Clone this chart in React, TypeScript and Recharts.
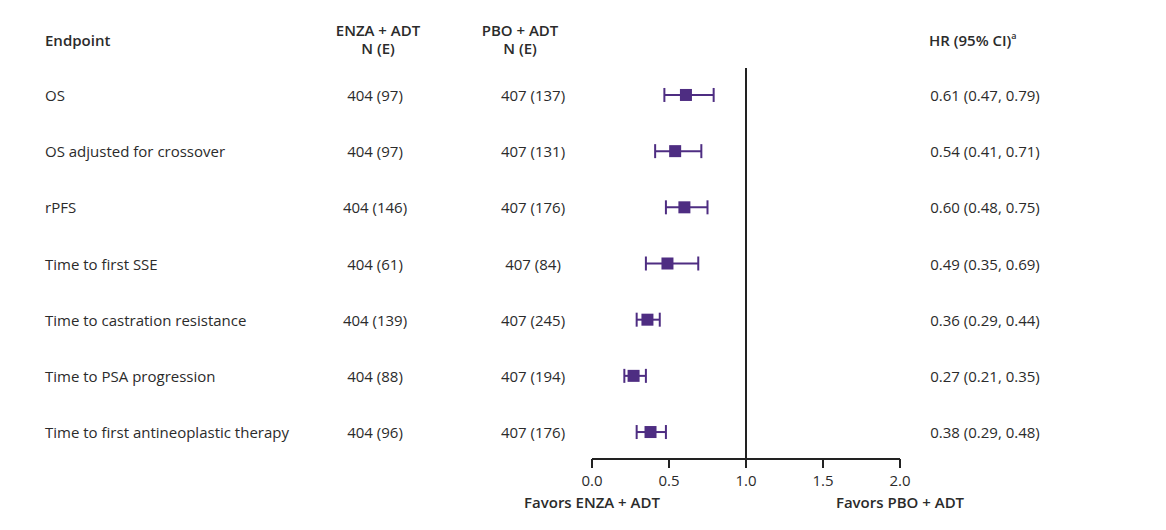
import {
  ComposedChart,
  Customized,
  ErrorBar,
  ReferenceLine,
  Scatter,
  XAxis,
  YAxis,
} from 'recharts';

const endpoints = [
  'OS',
  'OS adjusted for crossover',
  'rPFS',
  'Time to first SSE',
  'Time to castration resistance',
  'Time to PSA progression',
  'Time to first antineoplastic therapy',
];
const enzaN = [404, 404, 404, 404, 404, 404, 404];
const enzaEvents = [97, 97, 146, 61, 139, 88, 96];
const pboN = [407, 407, 407, 407, 407, 407, 407];
const pboEvents = [137, 131, 176, 84, 245, 194, 176];
const hr = [0.61, 0.54, 0.6, 0.49, 0.36, 0.27, 0.38];
const ciLow = [0.47, 0.41, 0.48, 0.35, 0.29, 0.21, 0.29];
const ciHigh = [0.79, 0.71, 0.75, 0.69, 0.44, 0.35, 0.48];
const xTicks = [0, 0.5, 1, 1.5, 2];
const favorsLabels: Record<number, string> = {
  0: 'Favors ENZA + ADT',
  2: 'Favors PBO + ADT',
};

const PURPLE = '#4e2d82';
const TEXT = '#2b2b2b';
const FONT = '"Open Sans", "Noto Sans", sans-serif';
const FS = 15;

const rows = endpoints.map((name, i) => ({
  row: i,
  name,
  enza: `${enzaN[i]} (${enzaEvents[i]})`,
  pbo: `${pboN[i]} (${pboEvents[i]})`,
  hr: hr[i],
  err: [hr[i] - ciLow[i], ciHigh[i] - hr[i]],
  ci: `${hr[i].toFixed(2)} (${ciLow[i].toFixed(2)}, ${ciHigh[i].toFixed(2)})`,
}));

// square marker plus the text columns of the same row
const RowShape = (props: any) => {
  const { cx, cy, payload } = props;
  const s = 12;
  return (
    <g fontFamily={FONT} fontSize={FS} fill={TEXT}>
      <text x={45} y={cy} dominantBaseline="central">{payload.name}</text>
      <text x={375} y={cy} textAnchor="middle" dominantBaseline="central">{payload.enza}</text>
      <text x={533} y={cy} textAnchor="middle" dominantBaseline="central">{payload.pbo}</text>
      <text x={985} y={cy} textAnchor="middle" dominantBaseline="central">{payload.ci}</text>
      <rect x={cx - s / 2} y={cy - s / 2} width={s} height={s} fill={PURPLE} />
    </g>
  );
};

const XTick = (props: any) => {
  const { x, y, payload } = props;
  const favors = favorsLabels[payload.value];
  return (
    <g fontFamily={FONT} fill={TEXT} textAnchor="middle">
      <text x={x} y={y + 10} fontSize={FS} fill={TEXT} dominantBaseline="central">
        {payload.value.toFixed(1)}
      </text>
      {favors && (
        <text x={x} y={y + 32} fontSize={FS} fontWeight={600} fill={TEXT} dominantBaseline="central">
          {favors}
        </text>
      )}
    </g>
  );
};

const Header = () => (
  <g fontFamily={FONT} fontSize={FS} fontWeight={600} fill={TEXT}>
    <text x={45} y={40} dominantBaseline="central">Endpoint</text>
    <text x={378} y={30} textAnchor="middle" dominantBaseline="central">ENZA + ADT</text>
    <text x={378} y={48} textAnchor="middle" dominantBaseline="central">N (E)</text>
    <text x={520} y={30} textAnchor="middle" dominantBaseline="central">PBO + ADT</text>
    <text x={520} y={48} textAnchor="middle" dominantBaseline="central">N (E)</text>
    <text x={929} y={40} dominantBaseline="central">
      HR (95% CI)
      <tspan fontSize={9} dy={-5}>a</tspan>
    </text>
  </g>
);

export default function App() {
  return (
    <div style={{ position: 'absolute', left: 0, top: 0, background: '#fff' }}>
      <ComposedChart
        width={1166}
        height={530}
        data={rows}
        margin={{ top: 68, right: 266, bottom: 41, left: 592 }}
      >
        <XAxis
          type="number"
          dataKey="hr"
          domain={[0, 2]}
          ticks={xTicks}
          height={30}
          stroke="#222"
          strokeWidth={2}
          tickSize={9}
          tick={<XTick />}
          interval={0}
        />
        <YAxis type="number" dataKey="row" domain={[-0.48, 6.48]} reversed hide />
        <ReferenceLine x={1} stroke="#222" strokeWidth={2} />
        <Scatter data={rows} dataKey="row" shape={<RowShape />} isAnimationActive={false}>
          <ErrorBar
            dataKey="err"
            direction="x"
            width={7}
            stroke={PURPLE}
            strokeWidth={2}
            isAnimationActive={false}
          />
        </Scatter>
        <Customized component={Header} />
      </ComposedChart>
    </div>
  );
}
